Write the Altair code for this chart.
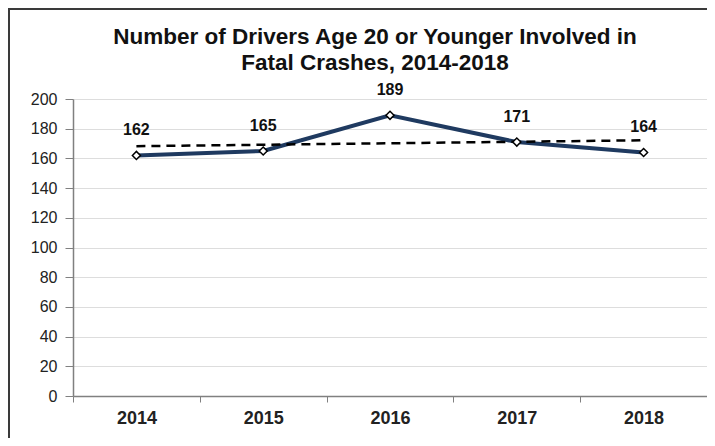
import altair as alt
import pandas as pd

years = [2014, 2015, 2016, 2017, 2018]
drivers = [162, 165, 189, 171, 164]
title_lines = ["Number of Drivers Age 20 or Younger Involved in", "Fatal Crashes, 2014-2018"]
y_ticks = [0, 20, 40, 60, 80, 100, 120, 140, 160, 180, 200]

df = pd.DataFrame({"year": years, "drivers": drivers})

W, H = 634, 297
PAD_L, PAD_T, PAD_R, PAD_B = 65, 91, 0, 42
FONT = "Liberation Sans"

x = alt.X(
    "year:O",
    scale=alt.Scale(type="band", paddingInner=0, paddingOuter=0),
    axis=alt.Axis(
        title=None,
        grid=False,
        labelAngle=0,
        tickBand="extent",
        labelFont=FONT,
        labelFontSize=18,
        labelFontWeight="bold",
        labelColor="#222222",
        labelPadding=7,
        tickSize=6,
        tickColor="#808080",
        domainColor="#808080",
        domainWidth=1.5,
    ),
)
y = alt.Y(
    "drivers:Q",
    scale=alt.Scale(domain=[0, 200], nice=False),
    axis=alt.Axis(
        values=y_ticks,
        title=None,
        grid=True,
        gridColor="#dddddd",
        gridWidth=1,
        labelFont=FONT,
        labelFontSize=16,
        labelColor="#222222",
        labelPadding=8,
        tickSize=8,
        tickColor="#808080",
        domainColor="#808080",
        domainWidth=1.5,
    ),
)

base = alt.Chart(df)
one = alt.Data(values=[{"a": 1}])

frame_top = alt.Chart(one).mark_rect(fill="#3a3a3a", stroke=None).encode(
    x=alt.value(-PAD_L), x2=alt.value(W + PAD_R), y=alt.value(-PAD_T), y2=alt.value(-PAD_T + 2)
)
frame_left = alt.Chart(one).mark_rect(fill="#3a3a3a", stroke=None).encode(
    x=alt.value(-PAD_L), x2=alt.value(-PAD_L + 2), y=alt.value(-PAD_T), y2=alt.value(H + PAD_B)
)

line = base.mark_line(color="#1f3a60", strokeWidth=4).encode(x=x, y=y)

trend = base.transform_calculate(
    idx=f"datum.year - {years[0]}"
).transform_regression(
    "idx", "drivers", extent=[0, len(years) - 1]
).transform_calculate(
    year=f"round(datum.idx) + {years[0]}"
).mark_line(color="black", strokeWidth=2.5, strokeDash=[9, 6]).encode(x=x, y=y)

points = base.mark_point(
    shape="diamond", filled=True, fill="white", stroke="black", strokeWidth=1.5, size=64, opacity=1
).encode(x=x, y=y)

labels = base.mark_text(
    font=FONT, fontSize=16, fontWeight="bold", color="#111111", dy=-25
).encode(x=x, y=y, text="drivers:Q")

chart = alt.layer(frame_top, frame_left, line, trend, points, labels).properties(
    width=W,
    height=H,
    autosize=alt.AutoSizeParams(type="none"),
    padding={"left": PAD_L, "top": PAD_T, "right": PAD_R, "bottom": PAD_B},
    title=alt.TitleParams(
        text=title_lines,
        font=FONT,
        fontSize=22.5,
        fontWeight="bold",
        color="#111111",
        anchor="middle",
        dx=-15,
        offset=-66,
        lineHeight=26,
    ),
).configure_view(stroke=None)

chart.save("out.html", embed_options={"renderer": "svg", "actions": False})
